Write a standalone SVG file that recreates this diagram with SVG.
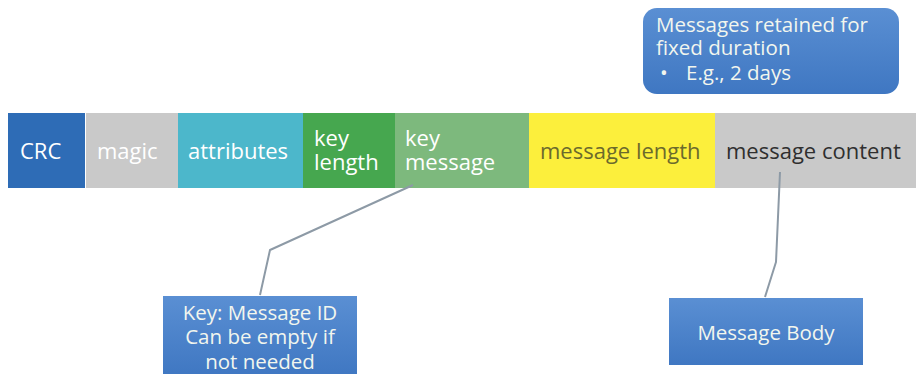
<svg xmlns="http://www.w3.org/2000/svg" width="916" height="374" viewBox="0 0 916 374">
  <defs>
    <linearGradient id="boxFill" x1="0" y1="0" x2="0" y2="1">
      <stop offset="0" stop-color="#5a8fd3"/>
      <stop offset="1" stop-color="#3f77c2"/>
    </linearGradient>
  </defs>
  <style>
    .lbl { font-family: "Open Sans", "Noto Sans", "DejaVu Sans", sans-serif; font-size: 22px; }
    .w { fill: #ffffff; }
    .note { font-family: "Open Sans", "Noto Sans", "DejaVu Sans", sans-serif; font-size: 20.5px; fill: #f2f6ee; }
    .box { fill: url(#boxFill); }
    .conn { fill: none; stroke: #8d9aa6; stroke-width: 2; stroke-linejoin: round; }
  </style>
  <rect width="916" height="374" fill="#ffffff"/>

  <!-- message format fields -->
  <g id="crc">
    <rect x="8" y="113" width="77" height="75" fill="#2e6cb6"/>
    <text class="lbl w" x="20" y="159">CRC</text>
  </g>
  <g id="magic">
    <rect x="86" y="113" width="92" height="75" fill="#c9c9c9"/>
    <text class="lbl w" x="97" y="159">magic</text>
  </g>
  <g id="attributes">
    <rect x="178" y="113" width="126" height="75" fill="#4cb7cb"/>
    <text class="lbl w" x="188" y="159">attributes</text>
  </g>
  <g id="key-length">
    <rect x="303" y="113" width="93" height="75" fill="#46a74f"/>
    <text class="lbl w" x="314" y="146">key</text>
    <text class="lbl w" x="314" y="170">length</text>
  </g>
  <g id="key-message">
    <rect x="395" y="113" width="135" height="75" fill="#7db97d"/>
    <text class="lbl w" x="405" y="146">key</text>
    <text class="lbl w" x="405" y="170">message</text>
  </g>
  <g id="message-length">
    <rect x="529" y="113" width="187" height="75" fill="#fcef3c"/>
    <text class="lbl" x="540" y="159" fill="#6b6a2c">message length</text>
  </g>
  <g id="message-content">
    <rect x="715" y="113" width="201" height="75" fill="#c9c9c9"/>
    <text class="lbl" x="726" y="159" fill="#2f2f2f">message content</text>
  </g>

  <!-- callouts -->
  <g id="connectors">
    <polyline class="conn" points="413,185 270,250 260,295"/>
    <polyline class="conn" points="780,172 776,262 765,297"/>
  </g>

  <g id="retention-note">
    <rect class="box" x="643" y="8" width="256" height="86" rx="14" ry="14"/>
    <text class="note" x="656" y="32">Messages retained for</text>
    <text class="note" x="656" y="55">fixed duration</text>
    <text class="note" x="660" y="80">•</text>
    <text class="note" x="686" y="80">E.g., 2 days</text>
  </g>

  <g id="key-note">
    <rect class="box" x="163" y="296" width="194" height="80"/>
    <text class="note" x="260" y="320" text-anchor="middle">Key: Message ID</text>
    <text class="note" x="260" y="344" text-anchor="middle">Can be empty if</text>
    <text class="note" x="260" y="369" text-anchor="middle">not needed</text>
  </g>

  <g id="body-note">
    <rect class="box" x="669" y="298" width="194" height="67"/>
    <text class="note" x="766" y="340" text-anchor="middle">Message Body</text>
  </g>
</svg>
